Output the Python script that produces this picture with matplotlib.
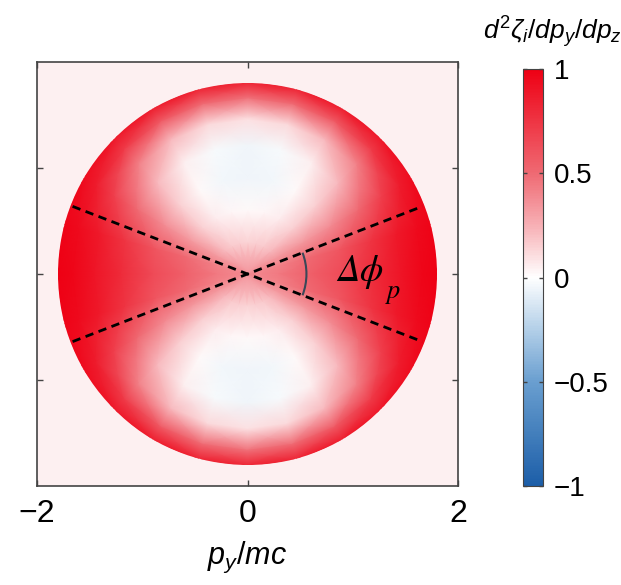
import numpy as np
import matplotlib
matplotlib.use("Agg")
import matplotlib.pyplot as plt
from matplotlib.colors import LinearSegmentedColormap
from matplotlib.patches import Circle, Arc

plt.rcParams['font.family'] = ['Liberation Sans', 'DejaVu Sans']
plt.rcParams['mathtext.fontset'] = 'custom'
plt.rcParams['mathtext.it'] = 'Liberation Sans:italic'
plt.rcParams['mathtext.rm'] = 'Liberation Sans'

# mean value per angle (first quadrant, mirrored) and radius
angles_deg = [0, 15, 30, 45, 60, 75, 90]
radii = [0.0, 0.3, 0.6, 0.9, 1.2, 1.45, 1.65, 1.8]
values = [
    [0.38, 0.45, 0.55, 0.65, 0.80, 0.90, 0.97, 1.00],
    [0.38, 0.42, 0.50, 0.60, 0.75, 0.88, 0.95, 0.98],
    [0.38, 0.33, 0.33, 0.38, 0.50, 0.70, 0.86, 0.95],
    [0.38, 0.22, 0.15, 0.15, 0.22, 0.42, 0.72, 0.90],
    [0.38, 0.17, 0.06, 0.02, 0.05, 0.22, 0.58, 0.88],
    [0.38, 0.15, 0.03, -0.04, -0.03, 0.12, 0.50, 0.85],
    [0.38, 0.14, 0.02, -0.05, -0.05, 0.10, 0.48, 0.85],
]
line_angle = 21.0     # degrees, dashed lines
line_half_len = 1.78
disc_radius = 1.8

x_ticks = [-2, 0, 2]
y_ticks = [-1, 0, 1]
cb_ticks = [-1, -0.5, 0, 0.5, 1]
cb_labels = ['\u22121', '\u22120.5', '0', '0.5', '1']

cmap = LinearSegmentedColormap.from_list('rwb', [
    (0.0, '#1c5ea8'), (0.25, '#6a9fd0'), (0.375, '#b3cfe8'), (0.5, '#ffffff'),
    (0.625, '#f7b0b5'), (0.75, '#ef6a73'), (1.0, '#ee0014')])

# mirror first quadrant to full circle
rows = values + values[-2::-1] + values[1:] + values[-2::-1]
C = np.array(rows)
th = np.deg2rad(np.arange(C.shape[0]) * 15.0)
step = np.deg2rad(15.0)
rr = np.array(radii) / np.cos(step / 2)
R, T = np.meshgrid(rr, th)
X = R * np.cos(T)
Y = R * np.sin(T)

fig = plt.figure(figsize=(6.21, 5.85), dpi=100)
ax = fig.add_axes([37/621, 1 - 486/585, 421/621, 424/585])
ax.set_facecolor('#fdf0f1')
mesh = ax.pcolormesh(X, Y, C, shading='gouraud', cmap=cmap, vmin=-1, vmax=1)
clip = Circle((0, 0), disc_radius, transform=ax.transData)
mesh.set_clip_path(clip)

a = np.deg2rad(line_angle)
ax.plot([-line_half_len*np.cos(a), line_half_len*np.cos(a)],
        [line_half_len*np.sin(a), -line_half_len*np.sin(a)], 'k--', lw=2, dashes=(3, 2))
ax.plot([-line_half_len*np.cos(a), line_half_len*np.cos(a)],
        [-line_half_len*np.sin(a), line_half_len*np.sin(a)], 'k--', lw=2, dashes=(3, 2))
ax.add_patch(Arc((0, 0), 1.12, 1.12, theta1=-line_angle, theta2=line_angle,
                 color='#3a4858', lw=1.5))
ax.text(0.85, 0.02, '\u0394\u03d5', fontsize=27, family='STIXGeneral', style='italic',
        ha='left', va='center')
ax.text(1.33, -0.17, 'p', fontsize=19, family='STIXGeneral', style='italic',
        ha='left', va='center')

ax.set_xlim(-2, 2)
ax.set_ylim(-2, 2)
ax.set_xticks(x_ticks)
ax.set_xticklabels(['\u22122', '0', '2'])
ax.set_yticks(y_ticks)
ax.set_yticklabels([])
ax.tick_params(direction='in', top=True, right=True, length=4, width=1,
               color='#444444', labelsize=23, pad=9)
for s in ax.spines.values():
    s.set_color('#444444')
    s.set_linewidth(1.2)
ax.set_xlabel(r'$p_y/mc$', fontsize=22, labelpad=8)

cax = fig.add_axes([523/621, 1 - 486/585, 20/621, 417/585])
cb = fig.colorbar(mesh, cax=cax, ticks=cb_ticks)
cb.ax.set_yticklabels(cb_labels)
cb.ax.tick_params(direction='in', left=True, right=True, length=3, width=1,
                  color='#444444', labelsize=20, pad=8)
cb.outline.set_edgecolor('#444444')
fig.text(483/621, 1 - 32/585, r'$d^2\zeta_i/dp_y/dp_z$', fontsize=19, va='center', ha='left')

fig.savefig('out.png', dpi=100)
